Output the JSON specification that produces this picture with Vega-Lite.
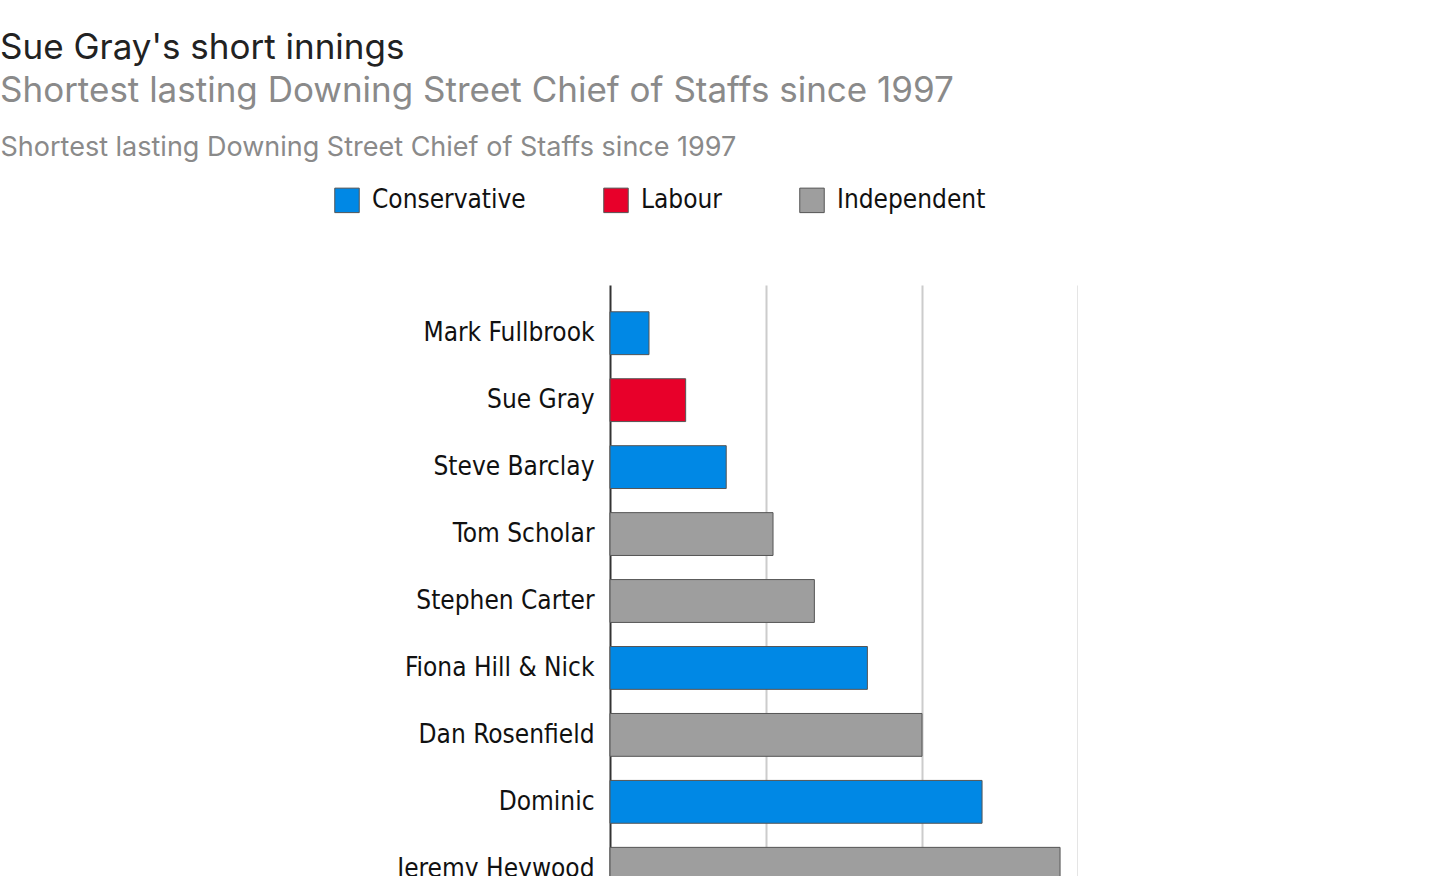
{
  "$schema": "https://vega.github.io/schema/vega-lite/v6.json",
  "autosize": "none",
  "width": 468,
  "height": 632,
  "padding": {"left": 610, "top": 285, "right": 0, "bottom": 0},
  "background": "white",
  "title": {
    "text": "Sue Gray's short innings",
    "subtitle": "Shortest lasting Downing Street Chief of Staffs since 1997",
    "anchor": "start",
    "frame": "group",
    "dx": -610,
    "offset": 24,
    "font": "Inter",
    "fontSize": 35,
    "fontWeight": "normal",
    "color": "#222",
    "subtitleFont": "Inter",
    "subtitleFontSize": 35,
    "subtitleColor": "#8a8a8a",
    "subtitlePadding": 8
  },
  "data": {
    "values": [
      {"name": "Mark Fullbrook", "days": 50, "party": "Conservative"},
      {"name": "Sue Gray", "days": 97, "party": "Labour"},
      {"name": "Steve Barclay", "days": 149, "party": "Conservative"},
      {"name": "Tom Scholar", "days": 209, "party": "Independent"},
      {"name": "Stephen Carter", "days": 262, "party": "Independent"},
      {"name": "Fiona Hill & Nick", "days": 330, "party": "Conservative"},
      {"name": "Dan Rosenfield", "days": 400, "party": "Independent"},
      {"name": "Dominic", "days": 477, "party": "Conservative"},
      {"name": "Jeremy Heywood", "days": 577, "party": "Independent"}
    ]
  },
  "mark": {"type": "bar", "stroke": "#555", "strokeWidth": 1},
  "encoding": {
    "y": {
      "field": "name",
      "type": "nominal",
      "sort": null,
      "title": null,
      "scale": {"paddingInner": 0.36, "paddingOuter": 0.4},
      "axis": {
        "labelFont": "DejaVu Sans Condensed",
        "labelFontSize": 26,
        "labelColor": "#111",
        "labelPadding": 16,
        "labelLimit": 0,
        "ticks": false,
        "domainColor": "#333",
        "domainWidth": 2,
        "grid": false
      }
    },
    "x": {
      "field": "days",
      "type": "quantitative",
      "scale": {"domain": [0, 600], "nice": false},
      "axis": {
        "orient": "top",
        "values": [200, 400, 600],
        "labels": false,
        "ticks": false,
        "domain": false,
        "grid": true,
        "gridColor": "#cccccc",
        "gridWidth": 2,
        "gridOpacity": 1,
        "title": "Shortest lasting Downing Street Chief of Staffs since 1997",
        "titleAnchor": "start",
        "titleAlign": "left",
        "titleX": -610,
        "titleY": -124,
        "titleFont": "Inter",
        "titleFontSize": 27,
        "titleFontWeight": "normal",
        "titleColor": "#8a8a8a"
      }
    },
    "color": {
      "field": "party",
      "type": "nominal",
      "scale": {
        "domain": ["Conservative", "Labour", "Independent"],
        "range": ["#0088e5", "#e8002a", "#9e9e9e"]
      },
      "legend": {
        "title": null,
        "orient": "none",
        "legendX": -276,
        "legendY": -98,
        "direction": "horizontal",
        "columns": 3,
        "columnPadding": 75,
        "symbolType": "square",
        "symbolSize": 600,
        "symbolStrokeColor": "#555",
        "symbolStrokeWidth": 1,
        "symbolOpacity": 1,
        "labelFont": "DejaVu Sans Condensed",
        "labelFontSize": 26,
        "labelColor": "#111",
        "labelOffset": 12,
        "labelLimit": 300
      }
    }
  },
  "config": {"view": {"stroke": null}}
}
